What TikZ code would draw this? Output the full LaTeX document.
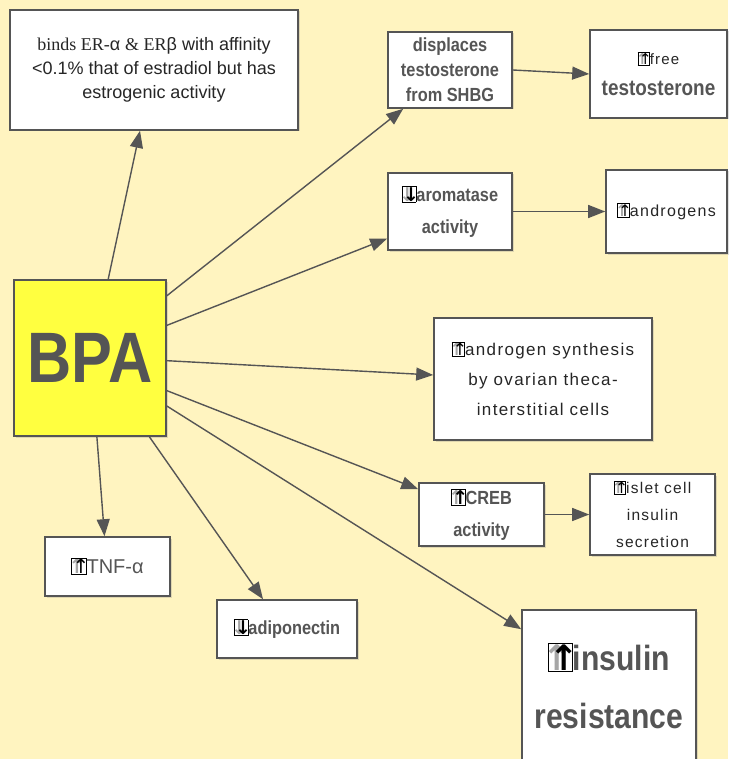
\documentclass[tikz,border=0pt]{standalone}
\usepackage{graphicx}
\usepackage{fontspec}
\setmainfont{Liberation Sans}
\newfontfamily\tnr{Liberation Serif}
\newfontfamily\cond[FakeStretch=0.86]{Liberation Sans}
\newfontfamily\spc[LetterSpace=8]{Liberation Sans}
\newfontfamily\dv{DejaVu Sans}
\usetikzlibrary{arrows.meta,shadows}
\definecolor{bg}{HTML}{FFF4C0}
\definecolor{ln}{HTML}{555555}
\definecolor{bpay}{HTML}{FFFF40}
\newcommand{\arrbx}[1]{{\setlength{\fboxsep}{0.5pt}\setlength{\fboxrule}{0.9pt}\fcolorbox{black}{white}{\makebox[0.62em]{\makebox[0pt]{\color{black!35}\dv\bfseries #1}\hspace{0.2em}\makebox[0pt]{\color{black}\dv #1}}}}}
\tikzset{
  box/.style={draw=ln, line width=1.6pt, fill=white, inner sep=2pt, align=center,
    drop shadow={opacity=0.25,shadow xshift=1.5pt,shadow yshift=-1.5pt}},
  conn/.style={draw=ln, line width=1.4pt, -{Triangle[length=17pt,width=13pt]}},
  boldgrey/.style={text=ln},
  plain/.style={text=black!85},
}
\begin{document}
\begin{tikzpicture}[x=1pt,y=-1pt]
\fill[bg] (0,0) rectangle (728,759);
\useasboundingbox (0,0) rectangle (728,759);

\node[box, plain, minimum width=288pt, minimum height=120pt, font=\fontsize{18}{24}\selectfont] (est) at (154,70)
  {{\tnr binds ER-}α {\tnr \& ER}β with affinity\\<0.1\% that of estradiol but has\\estrogenic activity};

\node[box, fill=bpay, minimum width=152pt, minimum height=156pt] (bpa) at (90,358)
  {\scalebox{0.9}[1.05]{\fontsize{68}{70}\selectfont\bfseries\color{ln}BPA}};

\node[box, boldgrey, minimum width=124pt, minimum height=76pt, font=\cond\bfseries\fontsize{19}{25}\selectfont] (disp) at (450,70)
  {displaces\\testosterone\\from SHBG};

\node[box, boldgrey, minimum width=137pt, minimum height=88pt] (free) at (658.5,74)
  {{\spc\color{black!85}\fontsize{15}{18}\selectfont\arrbx{↑}free}\\[14pt]{\cond\bfseries\fontsize{22}{26}\selectfont testosterone}};

\node[box, boldgrey, minimum width=124pt, minimum height=77pt, font=\cond\bfseries\fontsize{19}{32}\selectfont] (arom) at (450,211.5)
  {\arrbx{↓}aromatase\\activity};

\node[box, plain, minimum width=121pt, minimum height=83pt, font=\spc\fontsize{16}{20}\selectfont] (andr) at (666.5,211.5)
  {\arrbx{↑}androgens};

\node[box, plain, minimum width=218pt, minimum height=122pt, font=\spc\fontsize{17}{30}\selectfont] (syn) at (543,379)
  {\arrbx{↑}androgen synthesis\\by ovarian theca-\\interstitial cells};

\node[box, boldgrey, minimum width=125pt, minimum height=63pt, font=\cond\bfseries\fontsize{19}{32}\selectfont] (creb) at (481.5,514.5)
  {\arrbx{↑}CREB\\activity};

\node[box, plain, minimum width=125pt, minimum height=81pt, font=\spc\fontsize{15.5}{27}\selectfont] (islet) at (652.5,514.5)
  {\arrbx{↑}islet cell\\insulin\\secretion};

\node[box, boldgrey, minimum width=125pt, minimum height=59pt, font=\fontsize{20}{22}\selectfont] (tnf) at (107.5,566.5)
  {\arrbx{↑}TNF-α};

\node[box, boldgrey, minimum width=140pt, minimum height=58pt, font=\cond\bfseries\fontsize{19}{22}\selectfont] (adipo) at (287,629)
  {\arrbx{↓}adiponectin};

\node[box, boldgrey, minimum width=174pt, minimum height=152pt, font=\cond\bfseries\fontsize{35}{58}\selectfont] (ins) at (609,686)
  {\arrbx{↑}insulin\\resistance};

\draw[conn] (bpa.77) -- ([xshift=-14pt]est.south);
\draw[conn] (bpa.39) -- ([xshift=16pt]disp.south west);
\draw[conn] (bpa.23) -- ([yshift=-27pt]arom.west);
\draw[conn] (bpa.-2) -- ([yshift=4pt]syn.west);
\draw[conn] (bpa.-23) -- ([yshift=-7pt]creb.north west);
\draw[conn] (bpa.-32) -- ([yshift=-20pt]ins.north west);
\draw[conn] (bpa.-85) -- ([xshift=-3pt]tnf.north);
\draw[conn] (bpa.-53) -- ([xshift=-24pt]adipo.north);
\draw[conn] (disp.east) -- (free.west);
\draw[conn] (arom.east) -- (andr.west);
\draw[conn] (creb.east) -- (islet.west);
\end{tikzpicture}
\end{document}
